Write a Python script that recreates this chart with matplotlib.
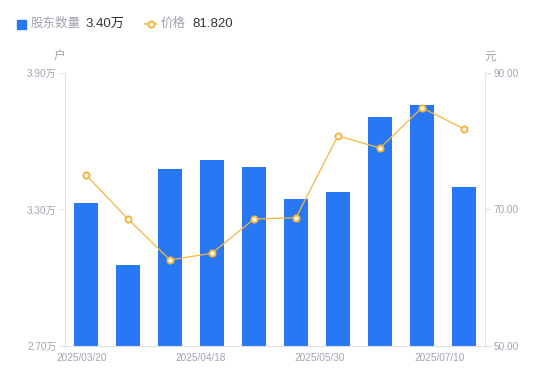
import matplotlib
matplotlib.use("Agg")
import matplotlib.pyplot as plt
from matplotlib.lines import Line2D

plt.rcParams['font.family'] = ['Liberation Sans', 'Noto Sans CJK SC', 'DejaVu Sans']

dates = ["2025/03/20", "2025/03/31", "2025/04/10", "2025/04/18", "2025/04/30",
         "2025/05/09", "2025/05/30", "2025/06/10", "2025/06/20", "2025/07/10"]
holders = [3.33, 3.056, 3.478, 3.518, 3.487, 3.346, 3.377, 3.707, 3.759, 3.40]
price = [75.05, 68.6, 62.6, 63.6, 68.6, 68.8, 80.8, 79.0, 84.9, 81.82]
tick_labels = ["2025/03/20", "2025/04/18", "2025/05/30", "2025/07/10"]
tick_pos = [-0.1, 2.74, 5.57, 8.43]

BLUE = "#2878F5"
ORANGE = "#F5B53A"
GRAY = "#A3A3B3"
AXIS = "#E0E0E6"
DARK = "#333333"

fig = plt.figure(figsize=(5.5, 3.81), dpi=100)
ax = fig.add_axes([0.1182, 0.0919, 0.7636, 0.7165])
x = list(range(len(dates)))
ax.bar(x, holders, width=0.58, color=BLUE, zorder=2)
ax.set_xlim(-0.5, len(dates) - 0.5)
ax.set_ylim(2.70, 3.90)
ax.set_yticks([2.70, 3.30, 3.90])
ax.set_yticklabels(["2.70万", "3.30万", "3.90万"])

ax2 = ax.twinx()
ax2.plot(x, price, color=ORANGE, lw=0.9, marker="o", ms=4.4,
         mfc="white", mec=ORANGE, mew=1.4, zorder=3)
ax2.set_ylim(50, 90)
ax2.set_yticks([50, 70, 90])
ax2.set_yticklabels(["50.00", "70.00", "90.00"])

for a in (ax, ax2):
    for s in a.spines.values():
        s.set_visible(False)
    a.tick_params(colors=AXIS, labelcolor=GRAY, labelsize=7.2, length=4, width=0.8)

ax.spines['left'].set_visible(True)
ax.spines['left'].set_color(AXIS)
ax.spines['bottom'].set_visible(True)
ax.spines['bottom'].set_color(AXIS)
ax2.spines['right'].set_visible(True)
ax2.spines['right'].set_color(AXIS)

ax.set_xticks(tick_pos)
ax.set_xticklabels(tick_labels)
ax.tick_params(axis='x', length=0, pad=5)
ax.tick_params(axis='y', pad=2)
ax2.tick_params(axis='y', pad=2)

fig.text(59 / 550, 1 - 57 / 381, "户", color=GRAY, fontsize=8.5, ha='center', va='center')
fig.text(490 / 550, 1 - 57 / 381, "元", color=GRAY, fontsize=8.5, ha='center', va='center')

# legend row
fig.patches.append(plt.Rectangle((17 / 550, 1 - 29 / 381), 9 / 550, 9 / 381,
                                 transform=fig.transFigure, color=BLUE, figure=fig))
fig.text(31 / 550, 1 - 24 / 381, "股东数量", color=GRAY, fontsize=9, va='center')
fig.text(85 / 550, 1 - 24 / 381, "3.40万", color=DARK, fontsize=9.5, va='center')
fig.add_artist(Line2D([145 / 550, 156 / 550], [1 - 24 / 381, 1 - 24 / 381],
                      transform=fig.transFigure, color=ORANGE, lw=1.2))
fig.add_artist(Line2D([150.5 / 550], [1 - 24 / 381], transform=fig.transFigure,
                      marker="o", ms=4.4, mfc="white", mec=ORANGE, mew=1.4))
fig.text(161 / 550, 1 - 24 / 381, "价格", color=GRAY, fontsize=9, va='center')
fig.text(192 / 550, 1 - 24 / 381, "81.820", color=DARK, fontsize=9.5, va='center')

fig.savefig("out.png", dpi=100)
